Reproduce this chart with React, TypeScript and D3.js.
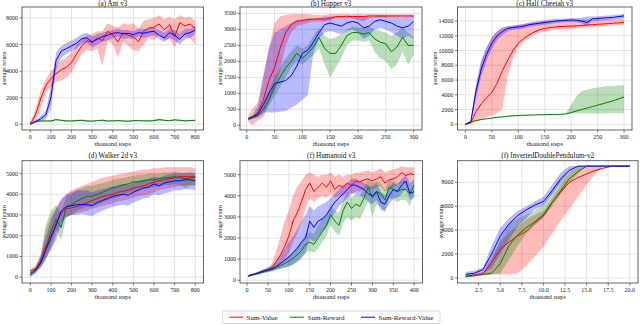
import React from 'react';
import * as d3 from 'd3';

// colours of the three methods
const RED = '#ff0000';
const GREEN = '#008000';
const BLUE = '#0000ff';
const FONT = '"Liberation Serif", "DejaVu Serif", serif';

const legendLabels = ['Sum-Value', 'Sum-Reward', 'Sum-Reward-Value'];
const legendColors = [RED, GREEN, BLUE];

// ---- (a) Ant v3
const antX = [0, 25, 50, 75, 100, 125, 150, 175, 200, 225, 250, 275, 300, 325, 350, 375, 400, 425, 450, 475, 500, 525, 550, 575, 600, 625, 650, 675, 700, 725, 750, 775, 800];
const antVal = [0, 700, 1900, 2900, 3450, 3800, 4100, 4300, 4650, 5300, 5900, 6300, 6150, 6500, 6300, 7000, 6750, 6200, 6900, 6700, 6600, 6200, 7000, 7250, 7300, 7550, 7100, 7500, 6600, 7650, 7400, 7550, 7200];
const antValLo = [0, 300, 1200, 2400, 2800, 3200, 3300, 3500, 3900, 4600, 5300, 5600, 5500, 5700, 4400, 6300, 6000, 5000, 6200, 5900, 5600, 5500, 6000, 6500, 6300, 6800, 6300, 6400, 5800, 6500, 6600, 6500, 6000];
const antValHi = [200, 1100, 2500, 3400, 4000, 4400, 4800, 5000, 5400, 6000, 6400, 6700, 6800, 7000, 7000, 7600, 7400, 7300, 7600, 7500, 7600, 7200, 7800, 7900, 8000, 8200, 7900, 8100, 7900, 8200, 8000, 8100, 7800];
const antRew = [0, 200, 250, 250, 250, 350, 300, 250, 250, 280, 300, 250, 240, 270, 300, 250, 260, 280, 250, 230, 270, 280, 260, 250, 280, 350, 300, 270, 330, 300, 260, 280, 300];
const antRewLo = [0, 150, 200, 200, 200, 280, 240, 200, 200, 220, 240, 200, 190, 220, 240, 200, 210, 220, 200, 180, 220, 230, 210, 200, 220, 270, 240, 220, 270, 240, 210, 230, 250];
const antRewHi = [50, 250, 300, 300, 300, 420, 360, 300, 300, 340, 360, 300, 290, 320, 360, 300, 310, 340, 300, 280, 320, 330, 310, 300, 340, 450, 360, 320, 390, 360, 310, 330, 350];
const antRV = [0, 200, 400, 700, 2000, 4800, 5500, 5700, 5900, 6100, 6450, 6500, 6200, 6400, 6600, 6700, 6850, 6900, 6800, 6850, 6750, 6900, 6850, 6950, 7000, 6700, 6500, 6900, 6700, 6400, 6800, 6900, 7100];
const antRVLo = [0, 100, 250, 400, 1200, 4100, 5000, 5300, 5500, 5700, 6100, 6100, 5800, 6000, 6200, 6300, 6500, 6600, 6400, 6500, 6400, 6600, 6500, 6600, 6700, 6400, 6200, 6500, 6300, 6000, 6400, 6500, 6800];
const antRVHi = [100, 350, 600, 1000, 2800, 5400, 5900, 6100, 6300, 6500, 6800, 6900, 6600, 6800, 6900, 7000, 7100, 7200, 7100, 7100, 7000, 7200, 7200, 7200, 7300, 7100, 6900, 7200, 7100, 6800, 7200, 7200, 7400];

// ---- (b) Hopper v3
const hopX = [3, 10, 20, 30, 40, 50, 60, 70, 80, 90, 100, 110, 120, 130, 140, 150, 160, 170, 180, 190, 200, 210, 220, 230, 240, 250, 260, 270, 280, 290, 300];
const hopVal = [200, 250, 400, 800, 1400, 1800, 2400, 2900, 3150, 3250, 3280, 3300, 3320, 3330, 3320, 3350, 3400, 3400, 3410, 3400, 3400, 3400, 3420, 3420, 3420, 3420, 3420, 3420, 3420, 3420, 3420];
const hopValLo = [100, 0, 150, 250, 700, 1100, 1700, 2500, 2900, 3100, 3150, 3200, 3250, 3250, 3250, 3280, 3350, 3350, 3350, 3350, 3300, 3250, 3350, 3370, 3370, 3380, 3380, 3380, 3380, 3380, 3380];
const hopValHi = [300, 500, 700, 1600, 2400, 3200, 3400, 3450, 3480, 3480, 3480, 3480, 3450, 3450, 3450, 3480, 3480, 3480, 3480, 3480, 3480, 3480, 3480, 3480, 3480, 3480, 3470, 3470, 3470, 3470, 3470];
const hopRew = [200, 250, 300, 500, 800, 1200, 1500, 1800, 2000, 2250, 2100, 2250, 2450, 2750, 2400, 2250, 2250, 2500, 2800, 2900, 2900, 2850, 2900, 2700, 2600, 2550, 2300, 2450, 2750, 2500, 2500];
const hopRewLo = [150, 200, 250, 350, 600, 900, 1200, 1500, 1800, 2000, 1900, 2050, 2200, 2400, 1900, 1500, 1800, 2100, 2500, 2650, 2650, 2600, 2650, 2300, 2100, 2000, 1750, 1900, 2300, 1900, 2200];
const hopRewHi = [250, 300, 400, 700, 1100, 1500, 1800, 2100, 2300, 2500, 2400, 2500, 2800, 3050, 2800, 2700, 2750, 2850, 3000, 3100, 3050, 3050, 3100, 3000, 2950, 2900, 2800, 2900, 3050, 2900, 2750];
const hopRV = [200, 250, 350, 650, 1000, 1300, 1350, 1400, 1550, 1850, 2250, 2350, 2600, 2900, 3150, 3200, 3150, 3100, 3200, 3250, 3200, 3050, 3100, 3250, 3300, 3250, 3200, 3100, 3050, 3100, 3250];
const hopRVLo = [150, 200, 250, 400, 400, 400, 420, 450, 550, 650, 800, 950, 2300, 2700, 2900, 2950, 2900, 2850, 2950, 3000, 2900, 2700, 2800, 3000, 3050, 3000, 2900, 2800, 2700, 2800, 2700];
const hopRVHi = [250, 300, 600, 1500, 2400, 2900, 3000, 3100, 3200, 3300, 3300, 3350, 3350, 3350, 3400, 3400, 3400, 3400, 3400, 3420, 3420, 3400, 3400, 3420, 3450, 3420, 3400, 3400, 3380, 3400, 3420];

// ---- (c) Half Cheetah v3
const hcX = [0, 10, 20, 30, 40, 50, 60, 70, 80, 90, 100, 110, 120, 130, 140, 150, 160, 170, 180, 190, 200, 210, 220, 230, 240, 250, 260, 270, 280, 290, 300];
const hcVal = [0, 200, 1700, 2800, 3600, 4300, 5600, 7300, 8700, 10000, 11000, 11600, 12100, 12500, 12800, 13000, 13100, 13200, 13250, 13300, 13300, 13350, 13400, 13450, 13500, 13550, 13600, 13650, 13700, 13750, 13800];
const hcValLo = [0, 50, 400, 700, 1000, 1200, 1500, 2200, 6500, 9000, 10400, 11200, 11700, 12100, 12400, 12600, 12700, 12800, 12900, 12950, 13000, 13050, 13100, 13150, 13200, 13250, 13300, 13350, 13400, 13450, 13500];
const hcValHi = [100, 500, 5000, 8500, 10300, 11800, 12600, 13100, 13300, 13400, 13500, 13600, 13700, 13800, 13900, 14000, 14000, 14050, 14050, 14100, 14100, 14150, 14200, 14200, 14250, 14250, 14300, 14300, 14300, 14350, 14350];
const hcRew = [0, 300, 500, 650, 750, 850, 950, 1000, 1100, 1150, 1200, 1220, 1250, 1270, 1290, 1300, 1320, 1340, 1360, 1400, 1600, 1800, 2000, 2200, 2400, 2600, 2800, 3000, 3200, 3450, 3700];
const hcRewLo = [0, 250, 450, 600, 700, 800, 900, 950, 1050, 1100, 1150, 1170, 1200, 1220, 1240, 1250, 1270, 1290, 1310, 1350, 1450, 1450, 1450, 1450, 1450, 1450, 1450, 1500, 1500, 1500, 1500];
const hcRewHi = [50, 350, 550, 700, 800, 900, 1000, 1050, 1150, 1200, 1250, 1270, 1300, 1320, 1340, 1350, 1370, 1390, 1410, 1450, 2700, 3800, 4500, 4700, 4900, 5000, 5100, 5200, 5200, 5300, 5300];
const hcRV = [0, 300, 4500, 7500, 9500, 11000, 12000, 12600, 13000, 13100, 13200, 13300, 13500, 13600, 13700, 13800, 13900, 14000, 14050, 14100, 14150, 14100, 14000, 13800, 14300, 14350, 14400, 14450, 14500, 14600, 14700];
const hcRVLo = [0, 150, 3500, 6500, 8600, 10200, 11400, 12100, 12600, 12800, 12900, 13000, 13200, 13300, 13400, 13500, 13600, 13700, 13800, 13850, 13900, 13850, 13700, 13300, 14000, 14050, 14100, 14150, 14200, 14300, 14400];
const hcRVHi = [100, 500, 5500, 8800, 10500, 11800, 12600, 13100, 13300, 13400, 13500, 13600, 13800, 13900, 14000, 14100, 14200, 14300, 14300, 14350, 14400, 14400, 14450, 14600, 14600, 14650, 14700, 14750, 14800, 14900, 15000];

// ---- (d) Walker 2d v3
const wkX = [0, 25, 50, 75, 100, 125, 150, 175, 200, 225, 250, 275, 300, 325, 350, 375, 400, 425, 450, 475, 500, 525, 550, 575, 600, 625, 650, 675, 700, 725, 750, 775, 800];
const wkVal = [300, 400, 800, 1500, 2000, 2600, 3100, 3300, 3350, 3400, 3500, 3600, 3700, 3800, 3900, 3950, 4000, 4100, 4150, 4200, 4300, 4350, 4400, 4500, 4600, 4650, 4700, 4750, 4800, 4850, 4850, 4850, 4850];
const wkValLo = [200, 300, 500, 900, 1400, 2000, 2600, 2900, 3000, 3100, 3150, 3200, 3300, 3350, 3450, 3500, 3550, 3650, 3700, 3750, 3850, 3900, 3950, 4000, 4100, 4200, 4250, 4300, 4350, 4400, 4450, 4450, 4450];
const wkValHi = [400, 550, 1100, 2300, 2900, 3300, 3700, 4000, 4200, 4300, 4400, 4500, 4600, 4700, 4800, 4850, 4900, 4950, 5000, 5050, 5100, 5150, 5200, 5200, 5250, 5250, 5300, 5300, 5300, 5300, 5300, 5300, 5250];
const wkRew = [200, 350, 650, 1300, 2200, 2800, 2400, 3400, 3500, 3650, 3800, 3900, 3900, 4000, 4100, 4200, 4300, 4350, 4450, 4500, 4600, 4600, 4650, 4700, 4700, 4750, 4800, 4800, 4850, 4800, 4750, 4800, 4800];
const wkRewLo = [100, 250, 450, 800, 1500, 2300, 1800, 2900, 3000, 3200, 3300, 3400, 3400, 3500, 3600, 3700, 3800, 3850, 3950, 4050, 4150, 4200, 4250, 4300, 4350, 4400, 4450, 4450, 4500, 4450, 4300, 4400, 4450];
const wkRewHi = [300, 450, 900, 2500, 3200, 3500, 3100, 3900, 4000, 4200, 4300, 4400, 4400, 4500, 4550, 4600, 4700, 4750, 4800, 4850, 4900, 4950, 4950, 5000, 5000, 5000, 5050, 5050, 5100, 5050, 5000, 5050, 5050];
const wkRV = [100, 300, 700, 1300, 1900, 2500, 3200, 3400, 3450, 3500, 3500, 3500, 3450, 3600, 3700, 3800, 3900, 3950, 4000, 3950, 4100, 4200, 4300, 4350, 4500, 4400, 4550, 4600, 4650, 4650, 4700, 4700, 4650];
const wkRVLo = [0, 150, 450, 900, 1300, 1800, 2600, 2900, 3000, 3000, 3050, 3000, 2950, 3100, 3200, 3300, 3400, 3450, 3500, 3450, 3600, 3700, 3800, 3850, 4000, 3950, 4050, 4100, 4200, 4200, 4250, 4250, 4200];
const wkRVHi = [200, 450, 1000, 1900, 2700, 3300, 3800, 4000, 4100, 4200, 4200, 4200, 4100, 4200, 4250, 4300, 4400, 4450, 4500, 4450, 4550, 4650, 4700, 4750, 4850, 4800, 4900, 4950, 5000, 5000, 5050, 5050, 5000];

// ---- (f) Humanoid v3
const huX = [3, 10, 20, 30, 40, 50, 60, 70, 80, 90, 100, 110, 120, 130, 140, 150, 160, 170, 180, 190, 200, 210, 220, 230, 240, 250, 260, 270, 280, 290, 300, 310, 320, 330, 340, 350, 360, 370, 380, 390, 400];
const huVal = [200, 250, 300, 350, 420, 500, 600, 900, 1200, 1600, 2100, 2800, 3200, 3700, 4300, 4600, 4200, 4400, 4600, 4400, 4700, 4300, 4500, 4400, 4600, 4500, 4700, 4650, 4750, 4800, 4700, 4800, 4900, 4600, 4750, 4800, 4900, 5100, 4950, 5050, 5000];
const huValLo = [150, 200, 250, 300, 350, 420, 500, 600, 800, 1000, 1300, 1800, 2200, 2700, 3400, 3900, 3700, 3900, 4000, 3900, 4100, 3900, 4000, 4000, 4100, 4100, 4200, 4200, 4300, 4350, 4300, 4400, 4450, 4200, 4300, 4400, 4500, 4600, 4600, 4650, 4650];
const huValHi = [250, 300, 350, 420, 500, 600, 800, 1400, 2100, 2800, 3300, 4000, 4400, 4700, 5000, 5100, 5000, 4900, 5000, 5000, 5100, 4900, 5000, 4900, 5000, 5000, 5100, 5100, 5150, 5200, 5100, 5200, 5300, 5100, 5200, 5250, 5300, 5400, 5350, 5350, 5350];
const huRew = [200, 250, 300, 350, 400, 450, 500, 600, 700, 800, 900, 1050, 1200, 1400, 1700, 1800, 1700, 2000, 2300, 2600, 3100, 2800, 2600, 3300, 3700, 3400, 3600, 3500, 3900, 4400, 3900, 4200, 4100, 3800, 4400, 4300, 4200, 4300, 4300, 4100, 4500];
const huRewLo = [150, 200, 250, 300, 350, 380, 420, 500, 550, 600, 650, 750, 850, 1000, 1300, 1400, 1300, 1500, 1800, 2100, 2600, 2300, 2100, 2700, 3000, 2800, 3000, 2900, 3300, 3800, 3000, 3600, 3500, 3200, 3900, 3800, 3700, 3800, 3800, 3500, 4100];
const huRewHi = [250, 300, 350, 400, 450, 500, 600, 700, 850, 1000, 1150, 1350, 1600, 1800, 2200, 2300, 2200, 2600, 2900, 3100, 3500, 3300, 3200, 3800, 4200, 3900, 4100, 4000, 4400, 4800, 4600, 4700, 4600, 4300, 4800, 4700, 4600, 4700, 4700, 4600, 4800];
const huRV = [200, 250, 300, 380, 450, 500, 550, 650, 800, 950, 1100, 1300, 1500, 1800, 2000, 2800, 2500, 2800, 2900, 3100, 3400, 3700, 3900, 4100, 4300, 4500, 4500, 4400, 4300, 4100, 4000, 4200, 3700, 3600, 4000, 4300, 4200, 4500, 4700, 4100, 4200];
const huRVLo = [150, 200, 250, 300, 350, 400, 450, 500, 550, 600, 650, 750, 900, 1100, 1300, 2000, 1800, 2100, 2300, 2500, 2900, 3200, 3500, 3700, 3900, 4100, 4100, 4000, 3900, 3700, 3600, 3800, 3300, 3300, 3600, 3900, 3900, 4100, 4300, 3800, 3900];
const huRVHi = [250, 300, 350, 450, 550, 600, 700, 900, 1200, 1500, 1800, 2100, 2400, 2800, 3100, 3500, 3300, 3500, 3600, 3700, 3900, 4100, 4300, 4500, 4600, 4800, 4800, 4700, 4600, 4500, 4400, 4600, 4200, 4000, 4400, 4600, 4500, 4800, 5000, 4600, 4700];

// ---- (f) InvertedDoublePendulum-v2
const idpX = [1, 2, 3, 4, 5, 6, 7, 8, 9, 10, 11, 12, 13, 14, 15, 16, 17, 18, 19, 20];
const idpVal = [150, 250, 350, 1300, 2400, 3000, 3500, 3900, 4600, 5200, 6300, 7200, 8000, 8400, 8700, 9000, 9200, 9360, 9360, 9360];
const idpValLo = [50, 150, 250, 300, 300, 300, 400, 1000, 1800, 2600, 3700, 4800, 5800, 6800, 7800, 8700, 9360, 9360, 9360, 9360];
const idpValHi = [250, 350, 500, 1800, 3000, 3800, 4300, 4900, 5300, 5600, 6700, 7800, 8800, 9360, 9360, 9360, 9360, 9360, 9360, 9360];
const idpRew = [100, 200, 300, 400, 1200, 2700, 3600, 4200, 4700, 5300, 6300, 7300, 8300, 8900, 9360, 9360, 9360, 9360, 9360, 9360];
const idpRewLo = [50, 100, 200, 300, 400, 1500, 2700, 3700, 4400, 5000, 6000, 7000, 8000, 8700, 9360, 9360, 9360, 9360, 9360, 9360];
const idpRewHi = [150, 300, 400, 1500, 3200, 4500, 5000, 5300, 5600, 6200, 7300, 8300, 9000, 9360, 9360, 9360, 9360, 9360, 9360, 9360];
const idpRV = [300, 400, 700, 2000, 3500, 4500, 5200, 5700, 6100, 6400, 7300, 8300, 9000, 9360, 9360, 9360, 9360, 9360, 9360, 9360];
const idpRVLo = [100, 200, 400, 800, 2000, 3200, 4300, 5000, 5700, 6100, 7000, 8000, 8900, 9360, 9360, 9360, 9360, 9360, 9360, 9360];
const idpRVHi = [500, 600, 900, 2700, 4200, 5000, 5600, 6000, 6400, 6800, 7800, 8800, 9360, 9360, 9360, 9360, 9360, 9360, 9360, 9360];

// tick values
const ticks800 = [0, 100, 200, 300, 400, 500, 600, 700, 800];
const ticks300 = [0, 50, 100, 150, 200, 250, 300];
const ticks400 = [0, 50, 100, 150, 200, 250, 300, 350, 400];
const ticksIdpX = [2.5, 5, 7.5, 10, 12.5, 15, 17.5, 20];
const yTicksAnt = [0, 2000, 4000, 6000, 8000];
const yTicksHop = [0, 500, 1000, 1500, 2000, 2500, 3000, 3500];
const yTicksHc = [0, 2000, 4000, 6000, 8000, 10000, 12000, 14000];
const yTicks5k = [0, 1000, 2000, 3000, 4000, 5000];
const yTicksIdp = [0, 2000, 4000, 6000, 8000];

type Series = { color: string; mean: number[]; lo: number[]; hi: number[] };
type PanelDef = {
  title: string;
  box: [number, number, number, number]; // left, top, right, bottom
  xd: [number, number];
  yd: [number, number];
  x: number[];
  xt: number[];
  yt: number[];
  xfmt?: (v: number) => string;
  ylabX: number;
  series: Series[];
};

const mk = (v: number[][]): Series[] => [
  { color: RED, mean: v[0], lo: v[1], hi: v[2] },
  { color: GREEN, mean: v[3], lo: v[4], hi: v[5] },
  { color: BLUE, mean: v[6], lo: v[7], hi: v[8] },
];

const panels: PanelDef[] = [
  {
    title: '(a) Ant v3', box: [22, 7, 203.5, 130], xd: [-40, 840], yd: [-430, 8830],
    x: antX, xt: ticks800, yt: yTicksAnt, ylabX: 4,
    series: mk([antVal, antValLo, antValHi, antRew, antRewLo, antRewHi, antRV, antRVLo, antRVHi]),
  },
  {
    title: '(b) Hopper v3', box: [240, 7, 422, 130], xd: [-12, 315], yd: [-147, 3700],
    x: hopX, xt: ticks300, yt: yTicksHop, ylabX: 220,
    series: mk([hopVal, hopValLo, hopValHi, hopRew, hopRewLo, hopRewHi, hopRV, hopRVLo, hopRVHi]),
  },
  {
    title: '(c) Half Cheetah v3', box: [457.5, 7, 632, 130], xd: [-15, 315], yd: [-770, 15900],
    x: hcX, xt: ticks300, yt: yTicksHc, ylabX: 435,
    series: mk([hcVal, hcValLo, hcValHi, hcRew, hcRewLo, hcRewHi, hcRV, hcRVLo, hcRVHi]),
  },
  {
    title: '(d) Walker 2d v3', box: [22, 160.7, 203.5, 283], xd: [-40, 840], yd: [-280, 5620],
    x: wkX, xt: ticks800, yt: yTicks5k, ylabX: 4,
    series: mk([wkVal, wkValLo, wkValHi, wkRew, wkRewLo, wkRewHi, wkRV, wkRVLo, wkRVHi]),
  },
  {
    title: '(f) Humanoid v3', box: [240, 160.7, 422.5, 283], xd: [-17, 420], yd: [-130, 5660],
    x: huX, xt: ticks400, yt: yTicks5k, ylabX: 220,
    series: mk([huVal, huValLo, huValHi, huRew, huRewLo, huRewHi, huRV, huRVLo, huRVHi]),
  },
  {
    title: '(f) InvertedDoublePendulum-v2', box: [457.5, 160.7, 638, 283], xd: [0.05, 20.95], yd: [-420, 9810],
    x: idpX, xt: ticksIdpX, yt: yTicksIdp, ylabX: 440.5, xfmt: d3.format('.1f'),
    series: mk([idpVal, idpValLo, idpValHi, idpRew, idpRewLo, idpRewHi, idpRV, idpRVLo, idpRVHi]),
  },
];

const Panel = ({ p, idx }: { p: PanelDef; idx: number }) => {
  const [l, t, r, b] = p.box;
  const xs = d3.scaleLinear().domain(p.xd).range([l, r]);
  const ys = d3.scaleLinear().domain(p.yd).range([b, t]);
  const idxs = p.x.map((_, i) => i);
  const band = (s: Series) =>
    d3.area<number>().x(i => xs(p.x[i])).y0(i => ys(s.lo[i])).y1(i => ys(s.hi[i]))(idxs) || '';
  const line = (s: Series) => d3.line<number>().x(i => xs(p.x[i])).y(i => ys(s.mean[i]))(idxs) || '';
  const xfmt = p.xfmt || ((v: number) => String(v));
  const clipId = `clip${idx}`;
  // top row titles sit against the page edge, keep them just inside it
  const titleY = Math.max(t - 3.2, 6);
  return (
    <g>
      <defs>
        <clipPath id={clipId}><rect x={l} y={t} width={r - l} height={b - t} /></clipPath>
      </defs>
      {p.xt.map(v => (
        <line key={'gx' + v} x1={xs(v)} x2={xs(v)} y1={t} y2={b} stroke="#dcdcdc" strokeWidth={0.8} />
      ))}
      {p.yt.map(v => (
        <line key={'gy' + v} x1={l} x2={r} y1={ys(v)} y2={ys(v)} stroke="#dcdcdc" strokeWidth={0.8} />
      ))}
      <g clipPath={`url(#${clipId})`}>
        {p.series.map((s, i) => (
          <path key={'b' + i} d={band(s)} fill={s.color} fillOpacity={0.27} stroke="none" />
        ))}
        {p.series.map((s, i) => (
          <path key={'l' + i} d={line(s)} fill="none" stroke={s.color} strokeWidth={1} />
        ))}
      </g>
      <rect x={l} y={t} width={r - l} height={b - t} fill="none" stroke="#555" strokeWidth={0.9} />
      {p.xt.map(v => (
        <g key={'tx' + v}>
          <line x1={xs(v)} x2={xs(v)} y1={b} y2={b + 2.5} stroke="#555" strokeWidth={0.8} />
          <text x={xs(v)} y={b + 8.5} textAnchor="middle" fontSize={6} fill="#222">{xfmt(v)}</text>
        </g>
      ))}
      {p.yt.map(v => (
        <g key={'ty' + v}>
          <line x1={l - 2.5} x2={l} y1={ys(v)} y2={ys(v)} stroke="#555" strokeWidth={0.8} />
          <text x={l - 4} y={ys(v) + 2} textAnchor="end" fontSize={6} fill="#222">{v}</text>
        </g>
      ))}
      <text x={(l + r) / 2} y={titleY} textAnchor="middle" fontSize={7.2} fill="#111">{p.title}</text>
      <text x={(l + r) / 2} y={b + 16} textAnchor="middle" fontSize={6.2} fill="#222">thousand steps</text>
      <text transform={`translate(${p.ylabX + 2},${(t + b) / 2}) rotate(-90)`} textAnchor="middle" fontSize={5.8} fill="#222">average return</text>
    </g>
  );
};

const legendLine = [229, 290, 361];

export default function App() {
  return (
    <svg width={640} height={325} style={{ position: 'absolute', left: 0, top: 0, fontFamily: FONT, background: '#fff' }}>
      {panels.map((p, i) => <Panel key={i} p={p} idx={i} />)}
      <rect x={222.5} y={311} width={217.5} height={12.5} rx={1.5} fill="#fff" stroke="#cccccc" strokeWidth={0.8} />
      {legendLabels.map((lab, i) => (
        <g key={lab}>
          <line x1={legendLine[i]} x2={legendLine[i] + 14} y1={317.2} y2={317.2} stroke={legendColors[i]} strokeWidth={1} />
          <text x={legendLine[i] + 17.5} y={319.6} fontSize={7} fill="#111">{lab}</text>
        </g>
      ))}
    </svg>
  );
}
